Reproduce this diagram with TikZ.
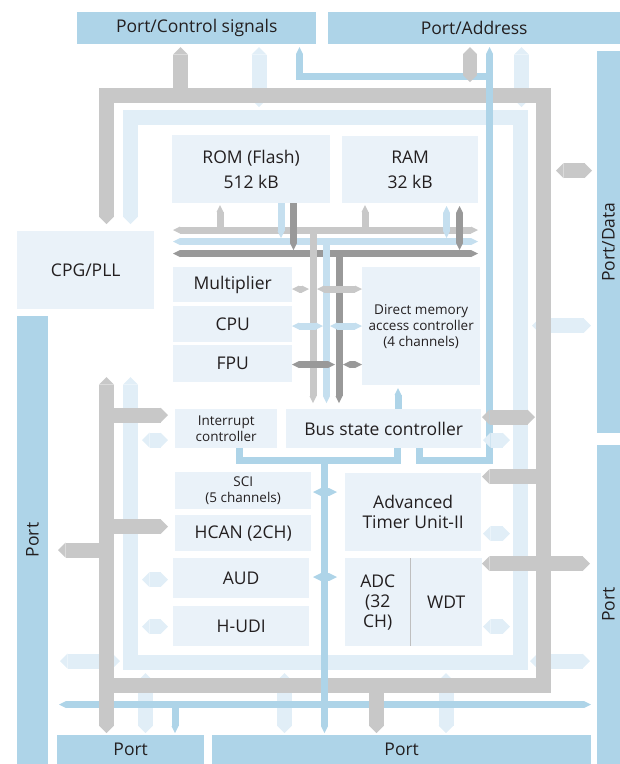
\documentclass[tikz,border=0pt]{standalone}
\usepackage{fontspec}
\setmainfont{Open Sans}
\usepackage{xcolor}
\usetikzlibrary{arrows.meta}

\definecolor{portblue}{RGB}{174,212,232}
\definecolor{boxfill}{RGB}{234,242,249}
\definecolor{busgray}{RGB}{200,200,200}
\definecolor{buspale}{RGB}{225,238,247}
\definecolor{busdark}{RGB}{153,153,153}
\definecolor{busblue}{RGB}{197,223,239}
\definecolor{txt}{RGB}{35,31,32}

\begin{document}
\begin{tikzpicture}[
    x=1pt, y=-1pt,
    hx/.tip={Triangle[length=0pt .5, width=0pt 1, line width=0pt]},
    hn/.tip={Triangle[length=0pt 1, width=0pt 1, line width=0pt]},
    wh/.style 2 args={minimum width=#1pt, minimum height=#2pt},
    port/.style={fill=portblue, text=txt, inner sep=0pt, font=\fontsize{17.5}{20}\selectfont},
    block/.style={fill=boxfill, text=txt, inner sep=0pt, align=center, anchor=north west, font=\fontsize{17.5}{24.5}\selectfont},
    small/.style={font=\fontsize{13.5}{16}\selectfont},
    gbus/.style={draw=busgray, line width=15pt, line join=miter},
    pbus/.style={draw=buspale, line width=15pt, line join=miter},
    bbus/.style={draw=portblue, line width=7pt, line join=miter},
    ibus/.style={line width=7pt}
]
    \useasboundingbox (0,0) rectangle (620,764);

    % ports
    \node [port, wh={239}{32}, anchor=north west] (pctl) at (77,12) {Port/Control signals};
    \node [port, wh={292}{32}, anchor=north west] (paddr) at (328,12) {Port/Address};
    \node [port, wh={382}{23}, rotate=90] (pdata) at (608.5,242) {Port/Data};
    \node [port, wh={319}{23}, rotate=90] (prgt) at (608.5,604.5) {Port};
    \node [port, wh={448}{31}, rotate=90] (plft) at (32.5,540) {Port};
    \node [port, wh={147}{29}, anchor=north west] (pbl) at (57,735) {Port};
    \node [port, wh={379}{29}, anchor=north west] (pbr) at (212,735) {Port};

    % pale bus
    \draw [pbus, hx-hx] (130.5,224) |- (520.5,117.5) |- (130.5,662.5) -- (130.5,377);
    \foreach \x in {259,521.5} \draw [pbus, hx-hx] (\x,47) -- (\x,107);
    \foreach \x in {145.5,284.5,446} \draw [pbus, hx-hx] (\x,673) -- (\x,733);
    \draw [pbus, hx-hx] (60,661) -- (120,661);
    \draw [pbus, hx-hx] (530,661) -- (590,661);
    \draw [pbus, hx-hx] (532,325.5) -- (591,325.5);

    \draw [bbus, hn-hn] (59,704.5) -- (591,704.5);

    % gray bus
    \draw [gbus, hx-] (106.5,224) |- (543.5,95.5) |- (106.5,685.5);
    \draw [gbus, hx-hx] (106.5,377) -- (106.5,733);
    \draw [gbus, -hx] (180.5,96) -- (180.5,47);
    \draw [gbus, -hx] (107,550) -- (58,550);
    \draw [gbus, -hx] (376.5,690) -- (376.5,733);
    \draw [gbus, hx-hx] (556,170.5) -- (592,170.5);
    \draw [gbus, hx-hx] (482,563.5) -- (590,563.5);

    % blue lines
    \draw [bbus, hn-] (299.5,47) |- (489.5,76.5);
    \draw [bbus, hn-] (489.5,47) |- (419.5,460.5) -- (419.5,447);
    \draw [bbus] (239,447) |- (397.5,460.5) -- (397.5,447);
    \draw [bbus, -hn] (324.5,460.5) -- (324.5,733);
    \draw [bbus, -hn] (175,704.5) -- (175,733);
    \draw [bbus, hn-] (398,388) -- (398,409);
    \foreach \y in {492,577} \draw [bbus, line width=8pt, hn-hn] (313,\y) -- (337,\y);

    % taps into the blocks
    \draw [gbus, line width=14pt, hx-hx] (470,47) -- (470,82);
    \draw [gbus, -hx] (107,415) -- (168,415);
    \draw [gbus, -hx] (107,526.5) -- (168,526.5);
    \draw [gbus, hx-hx] (482,417) -- (535,417);
    \draw [gbus, -hx] (543,476.5) -- (482,476.5);
    \foreach \y in {440,579.5,626.5} \draw [pbus, hx-hx] (142,\y) -- (168,\y);
    \foreach \y in {440,533.5,626.5} \draw [pbus, hx-hx] (483,\y) -- (510,\y);

    % blocks
    \node [block, wh={137}{78}] (cpg) at (17,231) {CPG/PLL};
    \node [block, wh={158}{68}] (rom) at (172,135) {ROM (Flash)\\512 kB};
    \node [block, wh={136}{67}] (ram) at (342,136) {RAM\\32 kB};
    \node [block, wh={119}{35}] (mult) at (173,267) {Multiplier};
    \node [block, wh={119}{36}] (cpu) at (173,306) {CPU};
    \node [block, wh={119}{37}] (fpu) at (173,345) {FPU};
    \node [block, small, wh={118}{118}] (dmac) at (362,267) {Direct memory\\access controller\\(4 channels)};
    \node [block, small, wh={102}{39}] (intc) at (175,409) {Interrupt\\controller};
    \node [block, wh={195}{39}] (bsc) at (286,409) {Bus state controller};
    \node [block, small, wh={136}{37}] (sci) at (175,472) {SCI\\(5 channels)};
    \node [block, wh={136}{36}] (hcan) at (175,515) {HCAN (2CH)};
    \node [block, wh={136}{40}] (aud) at (173,558) {AUD};
    \node [block, wh={136}{40}] (hudi) at (173,606) {H-UDI};
    \node [block, wh={136}{78}, font=\fontsize{17.5}{20}\selectfont] (atu) at (345,473) {Advanced\\Timer Unit-II};
    \node [block, wh={65}{88}, font=\fontsize{17.5}{20}\selectfont] (adc) at (345,558) {ADC\\(32\\CH)};
    \node [block, wh={72}{88}] (wdt) at (410,558) {WDT};
    \draw [black!25, line width=1pt] (adc.north east) -- (adc.south east);

    % internal buses
    \draw [ibus, busgray, hn-hn] (173,230) -- (478,230);
    \draw [ibus, busblue, hn-hn] (173,241.5) -- (478,241.5);
    \draw [ibus, busdark, hn-hn] (173,253.5) -- (478,253.5);
    \draw [ibus, busgray, -hn] (220,230) -- (220,205);
    \draw [ibus, busblue, -hn] (281,203) -- (281,238);
    \draw [ibus, busdark, -hn] (293.5,203) -- (293.5,250);
    \draw [ibus, busgray, -hn] (365,230) -- (365,205);
    \draw [ibus, busblue, hn-hn] (446.5,206) -- (446.5,238);
    \draw [ibus, busdark, hn-hn] (459.5,206) -- (459.5,250);
    \draw [ibus, busgray, -hn] (313,230) -- (313,403);
    \draw [ibus, busblue, -hn] (326.5,241.5) -- (326.5,403);
    \draw [ibus, busdark, -hn] (339,253.5) -- (339,403);
    \draw [ibus, busgray, hn-hn] (292,289) -- (309,289);
    \draw [ibus, busgray, hn-hn] (317,289) -- (362,289);
    \draw [ibus, busblue, hn-hn] (292,326) -- (323,326);
    \draw [ibus, busblue, hn-hn] (330,326) -- (362,326);
    \draw [ibus, busdark, hn-hn] (292,364.5) -- (335,364.5);
    \draw [ibus, busdark, hn-hn] (343,364.5) -- (362,364.5);
\end{tikzpicture}
\end{document}
